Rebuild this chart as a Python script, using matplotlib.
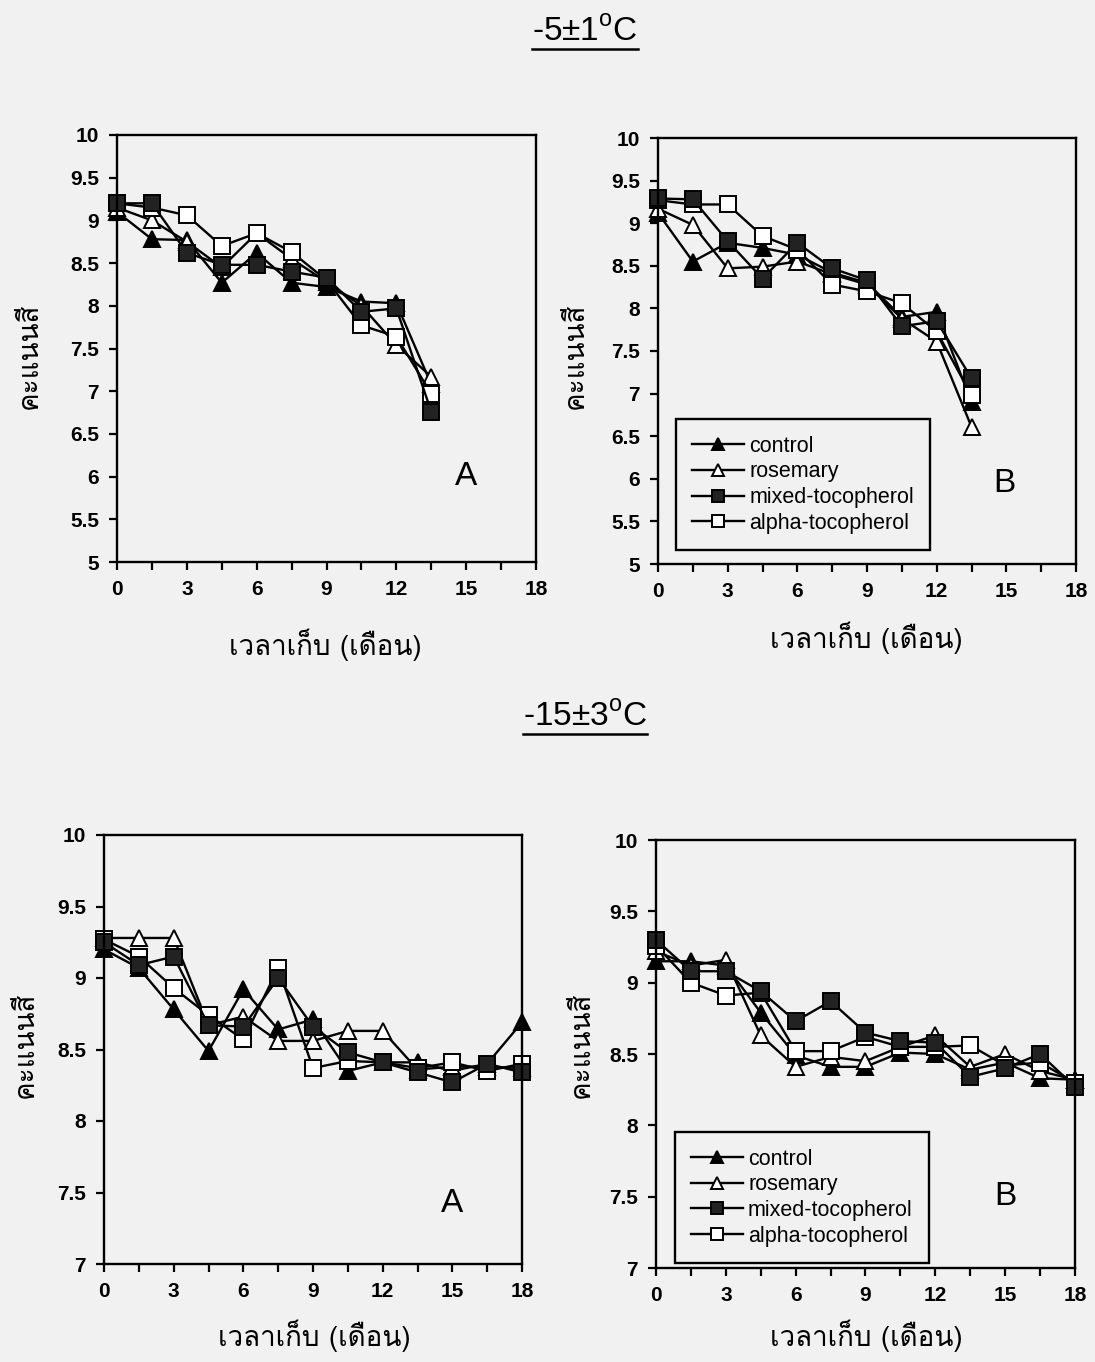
import matplotlib
matplotlib.use("Agg")
import matplotlib.pyplot as plt
from matplotlib import font_manager, ft2font
from matplotlib.lines import Line2D

# storage time (months)
months_short = [0, 1.5, 3, 4.5, 6, 7.5, 9, 10.5, 12, 13.5]
months_long = [0, 1.5, 3, 4.5, 6, 7.5, 9, 10.5, 12, 13.5, 15, 16.5, 18]

treatments = ["control", "rosemary", "mixed-tocopherol", "alpha-tocopherol"]

# -5 +/- 1 C, sample A
cold_a_control = [9.10, 8.78, 8.77, 8.27, 8.62, 8.27, 8.22, 8.05, 8.03, 7.08]
cold_a_rosemary = [9.15, 9.00, 8.75, 8.45, 8.85, 8.55, 8.28, 8.00, 7.54, 7.17]
cold_a_mixed = [9.20, 9.20, 8.62, 8.48, 8.48, 8.40, 8.33, 7.93, 7.97, 6.76]
cold_a_alpha = [9.20, 9.15, 9.06, 8.70, 8.85, 8.63, 8.30, 7.77, 7.64, 6.97]

# -5 +/- 1 C, sample B
cold_b_control = [9.12, 8.55, 8.77, 8.71, 8.63, 8.42, 8.30, 7.90, 7.96, 6.90]
cold_b_rosemary = [9.17, 8.98, 8.47, 8.49, 8.55, 8.40, 8.28, 7.88, 7.61, 6.61]
cold_b_mixed = [9.29, 9.28, 8.79, 8.35, 8.77, 8.47, 8.33, 7.79, 7.85, 7.18]
cold_b_alpha = [9.27, 9.22, 9.22, 8.85, 8.69, 8.28, 8.20, 8.06, 7.73, 6.98]

# -15 +/- 3 C, sample A
frozen_a_control = [9.20, 9.07, 8.78, 8.49, 8.92, 8.64, 8.71, 8.35, 8.41, 8.41, 8.35, 8.40, 8.69]
frozen_a_rosemary = [9.28, 9.28, 9.28, 8.67, 8.73, 8.56, 8.56, 8.63, 8.63, 8.36, 8.38, 8.38, 8.37]
frozen_a_mixed = [9.25, 9.09, 9.15, 8.67, 8.66, 9.00, 8.66, 8.48, 8.41, 8.34, 8.27, 8.40, 8.34]
frozen_a_alpha = [9.27, 9.15, 8.93, 8.74, 8.57, 9.07, 8.37, 8.42, 8.41, 8.37, 8.41, 8.35, 8.40]

# -15 +/- 3 C, sample B
frozen_b_control = [9.15, 9.15, 9.12, 8.79, 8.49, 8.41, 8.41, 8.51, 8.50, 8.39, 8.44, 8.33, 8.32]
frozen_b_rosemary = [9.22, 9.12, 9.16, 8.63, 8.41, 8.48, 8.45, 8.55, 8.63, 8.41, 8.50, 8.38, 8.32]
frozen_b_mixed = [9.30, 9.08, 9.08, 8.94, 8.73, 8.87, 8.65, 8.59, 8.58, 8.34, 8.40, 8.50, 8.27]
frozen_b_alpha = [9.26, 9.00, 8.91, 8.93, 8.52, 8.52, 8.62, 8.55, 8.55, 8.56, 8.42, 8.44, 8.30]

x_label = "เวลาเก็บ (เดือน)"
y_label = "คะแนนสี"


def find_thai_font():
    # first installed face that has Thai glyphs
    for f in font_manager.fontManager.ttflist:
        try:
            if 0x0E04 in ft2font.FT2Font(f.fname).get_charmap():
                return f.name
        except Exception:
            pass
    return "DejaVu Sans"


THAI = find_thai_font()
SANS = "Liberation Sans"
plt.rcParams["font.family"] = [SANS, "DejaVu Sans"]
plt.rcParams["mathtext.fontset"] = "custom"
plt.rcParams["mathtext.rm"] = SANS

W, H = 1095, 1362
BG = "#f1f1f1"
fig = plt.figure(figsize=(W / 100, H / 100), dpi=100, facecolor=BG)


def px_rect(x0, y0, x1, y1):
    return [x0 / W, 1 - y1 / H, (x1 - x0) / W, (y1 - y0) / H]


def px(x, y):
    return x / W, 1 - y / H


styles = {
    "control": dict(marker="^", mfc="black"),
    "rosemary": dict(marker="^", mfc="white"),
    "mixed-tocopherol": dict(marker="s", mfc="#222222"),
    "alpha-tocopherol": dict(marker="s", mfc="white"),
}
draw_order = ["control", "rosemary", "alpha-tocopherol", "mixed-tocopherol"]


def panel(rect, months, series, ylim, yticks, letter, letter_xy, legend_anchor=None):
    ax = fig.add_axes(rect, facecolor=BG)
    handles = {}
    for name in draw_order:
        st = styles[name]
        (h,) = ax.plot(months, series[name], color="black", lw=1.7,
                       marker=st["marker"], ms=11, mfc=st["mfc"], mec="black",
                       mew=1.4, label=name, clip_on=False)
        handles[name] = h
    ax.set_xlim(0, 18)
    ax.set_ylim(*ylim)
    ax.set_xticks(range(0, 19, 3))
    ax.set_xticks([1.5 + 3 * i for i in range(6)], minor=True)
    ax.set_yticks(yticks)
    ax.set_yticklabels([f"{v:g}" for v in yticks])
    ax.tick_params(axis="both", which="both", direction="out", length=6,
                   width=1.6, labelsize=15, pad=7)
    for lab in ax.get_xticklabels() + ax.get_yticklabels():
        lab.set_fontweight("bold")
    for sp in ax.spines.values():
        sp.set_linewidth(1.7)
    ax.text(letter_xy[0], letter_xy[1], letter, fontsize=24, ha="center",
            va="center")
    if legend_anchor is not None:
        leg = ax.legend([handles[n] for n in treatments], treatments,
                        loc="lower left", bbox_to_anchor=legend_anchor,
                        borderaxespad=0, fancybox=False, edgecolor="black",
                        facecolor=BG, framealpha=1, fontsize=15.5,
                        handlelength=2.4, handletextpad=0.25, labelspacing=0.22,
                        borderpad=0.75, markerscale=0.85)
        leg.get_frame().set_linewidth(1.7)
    return ax


cold_a = dict(zip(treatments, [cold_a_control, cold_a_rosemary, cold_a_mixed, cold_a_alpha]))
cold_b = dict(zip(treatments, [cold_b_control, cold_b_rosemary, cold_b_mixed, cold_b_alpha]))
frozen_a = dict(zip(treatments, [frozen_a_control, frozen_a_rosemary, frozen_a_mixed, frozen_a_alpha]))
frozen_b = dict(zip(treatments, [frozen_b_control, frozen_b_rosemary, frozen_b_mixed, frozen_b_alpha]))

ticks_top = [5, 5.5, 6, 6.5, 7, 7.5, 8, 8.5, 9, 9.5, 10]
ticks_bottom = [7, 7.5, 8, 8.5, 9, 9.5, 10]

panel(px_rect(117, 135, 536, 562), months_short, cold_a, (5, 10), ticks_top, "A", (15, 6.0))
panel(px_rect(658, 138, 1076, 564), months_short, cold_b, (5, 10), ticks_top, "B", (14.9, 5.95),
      legend_anchor=(0.043, 0.033))
panel(px_rect(104, 835, 522, 1264), months_long, frozen_a, (7, 10), ticks_bottom, "A", (15, 7.42))
panel(px_rect(656, 840, 1075, 1268), months_long, frozen_b, (7, 10), ticks_bottom, "B", (15, 7.5),
      legend_anchor=(0.045, 0.012))

# axis titles in Thai
for (x, y) in [(30, 356), (576, 356), (26, 1045), (582, 1045)]:
    fig.text(*px(x, y), y_label, rotation=90, ha="center", va="center",
             fontsize=20, family=[THAI, "DejaVu Sans"])
for (x, y) in [(325, 645), (866, 638), (314, 1336), (866, 1336)]:
    fig.text(*px(x, y), x_label, ha="center", va="center",
             fontsize=20, family=[THAI, "DejaVu Sans"])

# temperature headings, underlined
titles = []
for (x, y), s in [((585, 32), r"-5±1$^{\mathregular{o}}$C"),
                  ((585, 717), r"-15±3$^{\mathregular{o}}$C")]:
    t = fig.text(*px(x, y), s, ha="center", va="center", fontsize=24,
                 family=["Liberation Sans Narrow", SANS])
    titles.append(t)

fig.canvas.draw()
r = fig.canvas.get_renderer()
for t in titles:
    bb = t.get_window_extent(r)
    y = bb.y0 - 1
    fig.add_artist(Line2D([bb.x0 / W, bb.x1 / W], [y / H, y / H],
                          color="black", lw=1.8, transform=fig.transFigure))

fig.savefig("out.png", dpi=100, facecolor=BG)
